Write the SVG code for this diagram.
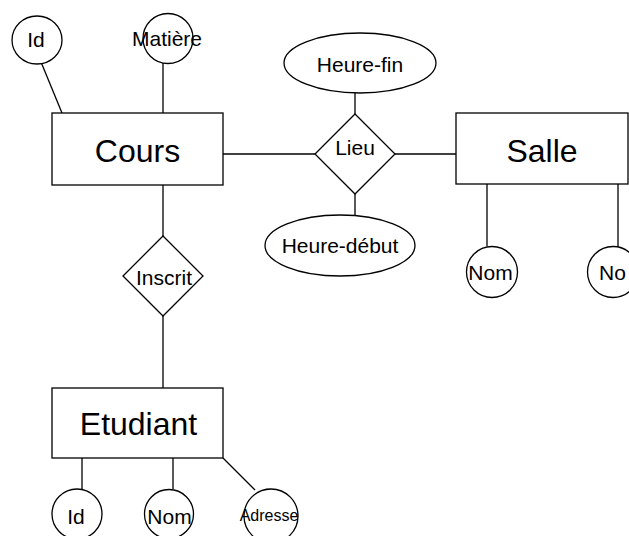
<svg xmlns="http://www.w3.org/2000/svg" width="629" height="536" viewBox="0 0 629 536">
<style>
.s{fill:#fff;stroke:#000;stroke-width:1.3}
.l{stroke:#000;stroke-width:1.3;fill:none}
.t{font-family:"Liberation Sans",Arial,sans-serif;font-size:21px;fill:#000;text-anchor:middle}
.b{font-size:32px}
.a{font-size:16px}
</style>
<rect width="629" height="536" fill="#fff"/>
<g id="connectors">
<line class="l" x1="41" y1="62" x2="62" y2="113"/>
<line class="l" x1="163" y1="63" x2="163" y2="113"/>
<line class="l" x1="223" y1="154" x2="315" y2="154"/>
<line class="l" x1="395" y1="154" x2="456" y2="154"/>
<line class="l" x1="355" y1="93" x2="355" y2="114"/>
<line class="l" x1="355" y1="194" x2="355" y2="215"/>
<line class="l" x1="487" y1="184" x2="487" y2="246"/>
<line class="l" x1="618" y1="184" x2="618" y2="247"/>
<line class="l" x1="163" y1="185" x2="163" y2="236"/>
<line class="l" x1="163" y1="316" x2="163" y2="388"/>
<line class="l" x1="82" y1="458" x2="82" y2="489"/>
<line class="l" x1="173" y1="458" x2="173" y2="489"/>
<line class="l" x1="223" y1="458" x2="255" y2="490"/>
</g>
<g id="cours-id"><ellipse class="s" cx="37" cy="40" rx="25" ry="24"/><text class="t" x="36" y="47">Id</text></g>
<g id="cours-matiere"><circle class="s" cx="168" cy="38.5" r="25"/><text class="t" x="167" y="46">Matière</text></g>
<g id="cours"><rect class="s" x="52" y="113" width="171" height="72"/><text class="t b" x="137.5" y="162">Cours</text></g>
<g id="heure-fin"><ellipse class="s" cx="360" cy="63" rx="76" ry="30"/><text class="t" x="360" y="72">Heure-fin</text></g>
<g id="lieu"><polygon class="s" points="355,114 395,154 355,194 315,154"/><text class="t" x="355" y="155">Lieu</text></g>
<g id="heure-debut"><ellipse class="s" cx="340" cy="245.5" rx="75" ry="30.5"/><text class="t" x="340" y="253">Heure-début</text></g>
<g id="salle"><rect class="s" x="456" y="113" width="172" height="71"/><text class="t b" x="542" y="162">Salle</text></g>
<g id="salle-nom1"><circle class="s" cx="492" cy="272" r="25.5"/><text class="t" x="490.5" y="280">Nom</text></g>
<g id="salle-nom2"><circle class="s" cx="613" cy="272" r="25.5"/><text class="t" x="599" y="280" style="text-anchor:start">No</text></g>
<g id="inscrit"><polygon class="s" points="163,236 203,276 163,316 123,276"/><text class="t" x="164" y="285">Inscrit</text></g>
<g id="etudiant"><rect class="s" x="52" y="388" width="171" height="70"/><text class="t b" x="138.5" y="435">Etudiant</text></g>
<g id="etu-id"><circle class="s" cx="77" cy="514" r="25"/><text class="t" x="76" y="524">Id</text></g>
<g id="etu-nom"><circle class="s" cx="169" cy="514" r="24.5"/><text class="t" x="169.5" y="524">Nom</text></g>
<g id="etu-adresse"><circle class="s" cx="271" cy="516" r="27"/><text class="t a" x="269" y="521">Adresse</text></g>
</svg>
